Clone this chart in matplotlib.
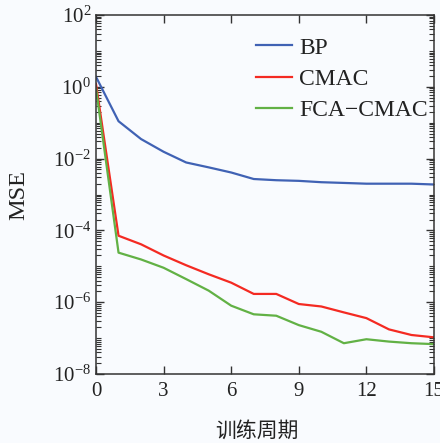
import numpy as np
import matplotlib
matplotlib.use("Agg")
import matplotlib.pyplot as plt
from matplotlib.ticker import LogLocator, FixedLocator, NullFormatter

plt.rcParams['font.family'] = ['Liberation Serif', 'Noto Sans CJK SC']
plt.rcParams['mathtext.fontset'] = 'custom'
plt.rcParams['mathtext.rm'] = 'Liberation Serif'
plt.rcParams['mathtext.it'] = 'Liberation Serif:italic'

epochs = list(range(16))
bp = [1.9, 0.11, 0.035, 0.0155, 0.0078, 0.0057, 0.0041, 0.0027, 0.0025,
      0.0024, 0.0022, 0.0021, 0.0020, 0.0020, 0.0020, 0.0019]
cmac = [1.2, 7.1e-5, 4.1e-5, 2.0e-5, 1.07e-5, 6.0e-6, 3.5e-6, 1.7e-6, 1.7e-6,
        8.9e-7, 7.6e-7, 5.2e-7, 3.6e-7, 1.75e-7, 1.22e-7, 1.05e-7]
fca = [0.9, 2.4e-5, 1.55e-5, 9.1e-6, 4.4e-6, 2.1e-6, 8.0e-7, 4.6e-7, 4.2e-7,
       2.3e-7, 1.5e-7, 7.2e-8, 9.3e-8, 8.0e-8, 7.2e-8, 6.8e-8]
series_names = ['BP', 'CMAC', 'FCA\u2212CMAC']
xticks = [0, 3, 6, 9, 12, 15]
xlabel = '训练周期'
ylabel = 'MSE'

bg = '#f9fbfe'
fig = plt.figure(figsize=(4.40, 4.43), dpi=100, facecolor=bg)
ax = fig.add_axes([96/440, 1-374/443, 338/440, 359/443], facecolor=bg)

ax.plot(epochs, bp, color='#4062b4', lw=1.6, label=series_names[0])
ax.plot(epochs, cmac, color='#f42a22', lw=1.6, label=series_names[1])
ax.plot(epochs, fca, color='#62b145', lw=1.6, label=series_names[2])

ax.set_yscale('log')
ax.set_xlim(0, 15)
ax.set_ylim(1e-8, 1e2)
ax.set_xticks(xticks)
ax.yaxis.set_major_locator(FixedLocator([1e-8, 1e-6, 1e-4, 1e-2, 1e0, 1e2]))
ax.yaxis.set_minor_locator(LogLocator(base=10, subs=np.arange(1, 10), numticks=100))
ax.yaxis.set_minor_formatter(NullFormatter())

ax.tick_params(which='both', direction='in', top=True, right=True,
               colors='#333333', labelcolor='#222222', labelsize=15)
ax.tick_params(which='major', length=6, width=1.0)
ax.tick_params(which='minor', length=3.5, width=0.8)
ax.tick_params(axis='x', pad=6)
for s in ax.spines.values():
    s.set_color('#333333')
    s.set_linewidth(1.1)

ax.set_xlabel(xlabel, fontsize=15, family=['Noto Sans CJK SC'], color='#222222')
ax.xaxis.set_label_coords(0.476, -0.128)
ax.set_ylabel(ylabel, fontsize=17.5, color='#222222')
ax.yaxis.set_label_coords(-0.198, 0.5)

leg = ax.legend(loc='upper right', frameon=False, fontsize=17,
                handlelength=1.55, handletextpad=0.3, labelspacing=0.42,
                borderaxespad=0.0, bbox_to_anchor=(1.01, 0.965))
for t in leg.get_texts():
    t.set_color('#222222')

fig.savefig('out.png', dpi=100, facecolor=bg)
